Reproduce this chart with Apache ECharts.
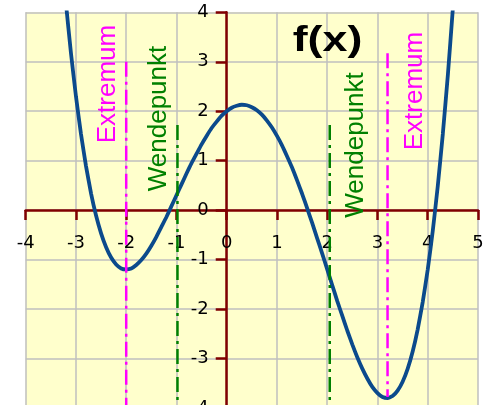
<!DOCTYPE html>
<html>
<head>
<meta charset="utf-8">
<script src="https://cdn.jsdelivr.net/npm/echarts@6/dist/echarts.min.js"></script>
<style>
  html, body { margin: 0; padding: 0; background: #fff; }
  #chart { width: 486px; height: 405px; }
</style>
</head>
<body>
<div id="chart"></div>
<script>
// tick labels of both axes
const xTicks = [-4, -3, -2, -1, 0, 1, 2, 3, 4, 5]
const yTicks = [-4, -3, -2, -1, 0, 1, 2, 3, 4]

// f(x)
const curveX = [-3.3, -3.2, -3.1, -3, -2.9, -2.8, -2.7, -2.6, -2.5, -2.4, -2.3, -2.2, -2.1,
  -2, -1.9, -1.8, -1.7, -1.6, -1.5, -1.4, -1.3, -1.2, -1.1,
  -1, -0.9, -0.8, -0.7, -0.6, -0.5, -0.4, -0.3, -0.2, -0.1,
  0, 0.1, 0.2, 0.3, 0.4, 0.5, 0.6, 0.7, 0.8, 0.9,
  1, 1.1, 1.2, 1.3, 1.4, 1.5, 1.6, 1.7, 1.8, 1.9,
  2, 2.1, 2.2, 2.3, 2.4, 2.5, 2.6, 2.7, 2.8, 2.9,
  3, 3.1, 3.2, 3.3, 3.4, 3.5, 3.6, 3.7, 3.8, 3.9,
  4, 4.1, 4.2, 4.3, 4.4, 4.5, 4.6]
const curveY = [5.34, 4.19, 3.18, 2.3, 1.54, 0.89, 0.34, -0.11, -0.47, -0.75, -0.96, -1.1, -1.18,
  -1.2, -1.18, -1.11, -1.01, -0.88, -0.72, -0.54, -0.34, -0.14, 0.08,
  0.3, 0.52, 0.74, 0.95, 1.14, 1.33, 1.5, 1.66, 1.79, 1.91,
  2, 2.07, 2.11, 2.13, 2.12, 2.08, 2.02, 1.93, 1.81, 1.67,
  1.5, 1.31, 1.09, 0.86, 0.6, 0.33, 0.04, -0.26, -0.57, -0.88,
  -1.2, -1.52, -1.84, -2.14, -2.44, -2.72, -2.98, -3.21, -3.41, -3.58,
  -3.7, -3.78, -3.8, -3.76, -3.65, -3.47, -3.21, -2.86, -2.41, -1.86,
  -1.2, -0.42, 0.49, 1.54, 2.73, 4.08, 5.6]

// vertical guide lines: x, top y, bottom y
const extremaLines = [[-2, 3.0, -4], [3.2, 3.17, -3.78]]
const inflectionLines = [[-0.98, 1.72, -4], [2.05, 1.72, -4]]

const W = 486, H = 405
const gridLeft = 25.7, gridRight = 8, gridTop = 12.3, gridBottom = -2.9
const plotW = W - gridLeft - gridRight
const plotH = H - gridTop - gridBottom

const xMin = xTicks[0], xMax = xTicks[xTicks.length - 1]
const yMin = yTicks[0], yMax = yTicks[yTicks.length - 1]
// shift the axes from the grid edges onto the zero lines
const yAxisOffset = -(0 - xMin) / (xMax - xMin) * plotW
const xAxisOffset = -(0 - yMin) / (yMax - yMin) * plotH

const chart = echarts.init(document.getElementById('chart'))

const dashDot = [15, 5, 3, 5]

function guideSeries(lines, color) {
  return lines.map(l => ({
    type: 'line',
    data: [[l[0], l[1]], [l[0], l[2]]],
    showSymbol: false,
    silent: true,
    z: 5,
    lineStyle: { color: color, width: 2.5, type: dashDot }
  }))
}

const curve = curveX.map((x, i) => [x, curveY[i]])

const axisRed = '#800000'
const labelFont = { color: '#000', fontSize: 18, fontFamily: '"DejaVu Sans", sans-serif' }

chart.setOption({
  animation: false,
  grid: {
    show: true,
    left: gridLeft,
    right: gridRight,
    top: gridTop,
    bottom: gridBottom,
    containLabel: false,
    outerBoundsMode: 'none',
    backgroundColor: '#FFFFCC',
    borderWidth: 0
  },
  xAxis: {
    type: 'value',
    min: xMin,
    max: xMax,
    interval: 1,
    offset: xAxisOffset,
    axisLine: { onZero: false, lineStyle: { color: axisRed, width: 2.5 } },
    axisTick: { show: true, length: 10, lineStyle: { color: axisRed, width: 2.5 } },
    axisLabel: Object.assign({ margin: 24, showMinLabel: true, showMaxLabel: true }, labelFont),
    splitLine: { show: true, lineStyle: { color: '#BFBFBF', width: 1.5 } }
  },
  yAxis: {
    type: 'value',
    min: yMin,
    max: yMax,
    interval: 1,
    offset: yAxisOffset,
    axisLine: { onZero: false, lineStyle: { color: axisRed, width: 2.5 } },
    axisTick: { show: true, length: 11, lineStyle: { color: axisRed, width: 2.5 } },
    axisLabel: Object.assign({ margin: 18, showMinLabel: true, showMaxLabel: true }, labelFont),
    splitLine: { show: true, lineStyle: { color: '#BFBFBF', width: 1.5 } }
  },
  series: [
    {
      type: 'line',
      data: curve,
      smooth: 0.15,
      showSymbol: false,
      clip: true,
      z: 3,
      lineStyle: { color: '#0B4A8C', width: 3.8 }
    }
  ].concat(guideSeries(extremaLines, '#FF00FF'), guideSeries(inflectionLines, '#008000')),
  graphic: [
    {
      type: 'text', x: 327.5, y: 41, scaleX: 1.28, z: 10,
      style: { text: 'f(x)', fill: '#000', font: 'bold 35px "Liberation Sans", Arial', align: 'center', verticalAlign: 'middle' }
    },
    {
      type: 'text', x: 108, y: 84, rotation: Math.PI / 2, z: 10,
      style: { text: 'Extremum', fill: '#FF00FF', font: '26px "Liberation Sans", Arial', align: 'center', verticalAlign: 'middle' }
    },
    {
      type: 'text', x: 159, y: 118.5, rotation: Math.PI / 2, z: 10,
      style: { text: 'Wendepunkt', fill: '#008000', font: '26px "Liberation Sans", Arial', align: 'center', verticalAlign: 'middle' }
    },
    {
      type: 'text', x: 356, y: 145, rotation: Math.PI / 2, z: 10,
      style: { text: 'Wendepunkt', fill: '#008000', font: '26px "Liberation Sans", Arial', align: 'center', verticalAlign: 'middle' }
    },
    {
      type: 'text', x: 415, y: 91, rotation: Math.PI / 2, z: 10,
      style: { text: 'Extremum', fill: '#FF00FF', font: '26px "Liberation Sans", Arial', align: 'center', verticalAlign: 'middle' }
    }
  ]
})
</script>
</body>
</html>
